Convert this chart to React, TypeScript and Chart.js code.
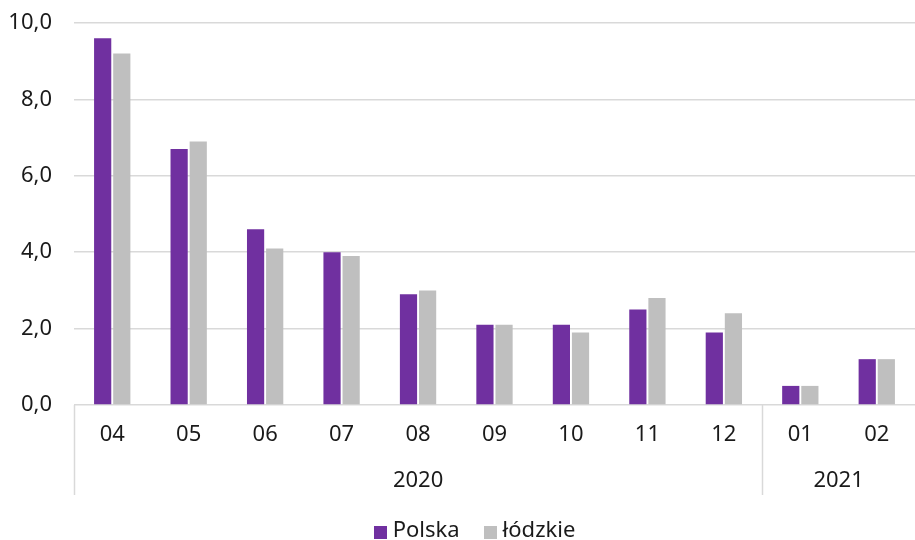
import React, { useEffect, useRef } from "react";
import { Chart, registerables } from "chart.js";

Chart.register(...registerables);

const categories = ["04", "05", "06", "07", "08", "09", "10", "11", "12", "01", "02"];
const groupLabels = ["2020", "2021"];
const groupSpans = [9, 2];
const polska = [9.6, 6.7, 4.6, 4.0, 2.9, 2.1, 2.1, 2.5, 1.9, 0.5, 1.2];
const lodzkie = [9.2, 6.9, 4.1, 3.9, 3.0, 2.1, 1.9, 2.8, 2.4, 0.5, 1.2];

const FONT = "'Noto Sans', 'Open Sans', sans-serif";
const TEXT = "#1a1a1a";
const GRID = "#d9d9d9";
const FS = 22;

const groupPlugin = {
  id: "groupAxis",
  afterDraw(chart: any) {
    const x = chart.scales.x;
    const ctx = chart.ctx;
    const half = (x.getPixelForValue(1) - x.getPixelForValue(0)) / 2;
    ctx.save();
    ctx.strokeStyle = GRID;
    ctx.lineWidth = 1.5;
    ctx.fillStyle = TEXT;
    ctx.font = `${FS}px ${FONT}`;
    ctx.textAlign = "center";
    ctx.textBaseline = "middle";
    let start = 0;
    groupSpans.forEach((span, i) => {
      const left = x.getPixelForValue(start) - half;
      const right = x.getPixelForValue(start + span - 1) + half;
      ctx.beginPath();
      ctx.moveTo(Math.round(left) + 0.5, x.top);
      ctx.lineTo(Math.round(left) + 0.5, x.top + 90);
      ctx.stroke();
      ctx.fillText(groupLabels[i], (left + right) / 2, x.top + 76);
      start += span;
    });

    // legend
    const items = chart.data.datasets.map((d: any) => ({ label: d.label, color: d.backgroundColor }));
    const box = 13;
    const gapText = 6;
    const gapItem = 24;
    ctx.textAlign = "left";
    const widths = items.map((it: any) => box + gapText + ctx.measureText(it.label).width);
    const total = widths.reduce((a: number, b: number) => a + b, 0) + gapItem * (items.length - 1);
    let lx = chart.width / 2 + 17 - total / 2;
    const cy = chart.height - 8;
    items.forEach((it: any, i: number) => {
      ctx.fillStyle = it.color;
      ctx.fillRect(Math.round(lx), Math.round(cy - box / 2), box, box);
      ctx.fillStyle = TEXT;
      ctx.fillText(it.label, lx + box + gapText, cy - 1);
      lx += widths[i] + gapItem;
    });
    ctx.restore();
  },
};

export default function App() {
  const ref = useRef<HTMLCanvasElement>(null);
  useEffect(() => {
    if (!ref.current) return;
    const chart = new Chart(ref.current, {
      type: "bar",
      data: {
        labels: categories,
        datasets: [
          { label: "Polska", data: polska, backgroundColor: "#7030a0", borderWidth: 0 },
          { label: "łódzkie", data: lodzkie, backgroundColor: "#bfbfbf", borderWidth: 0 },
        ],
      },
      options: {
        animation: false,
        responsive: false,
        maintainAspectRatio: false,
        layout: { padding: { top: 0, right: 0, left: 8, bottom: 26 } },
        datasets: { bar: { categoryPercentage: 0.5, barPercentage: 0.9 } },
        plugins: {
          legend: { display: false },
          tooltip: { enabled: false },
        },
        scales: {
          x: {
            grid: { display: false, drawTicks: false },
            border: { display: false },
            ticks: { color: TEXT, font: { family: FONT, size: FS }, padding: 17, maxRotation: 0 },
            afterFit: (s: any) => {
              s.height = 109;
            },
          },
          y: {
            min: 0,
            max: 10,
            ticks: {
              stepSize: 2,
              color: TEXT,
              font: { family: FONT, size: FS },
              padding: 22,
              callback: (v: any) => Number(v).toFixed(1).replace(".", ","),
            },
            grid: { color: GRID, lineWidth: 1.5, drawTicks: false },
            border: { display: false },
            afterFit: (s: any) => {
              s.width = 66;
              s.paddingTop = 23;
              s.paddingBottom = 14;
            },
          },
        },
      },
      plugins: [groupPlugin],
    });
    return () => chart.destroy();
  }, []);
  return (
    <div style={{ position: "fixed", left: 0, top: 0, width: 915, height: 540, background: "#fff" }}>
      <canvas ref={ref} width={915} height={540} />
    </div>
  );
}
